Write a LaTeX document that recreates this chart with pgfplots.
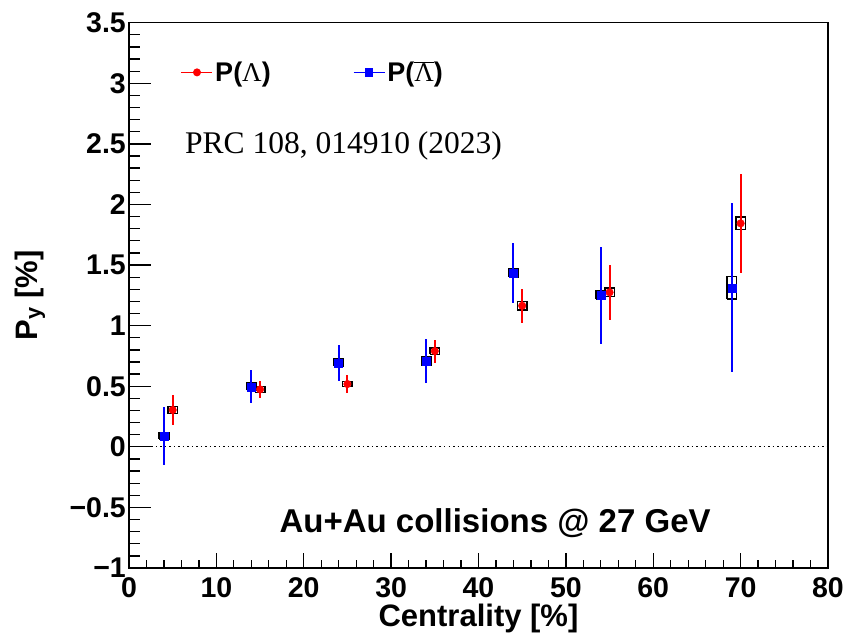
\documentclass[border=0pt]{standalone}
\usepackage{fontspec}
\setmainfont{Liberation Sans}
\newfontfamily\serif{Liberation Serif}
\usepackage{pgfplots}
\pgfplotsset{compat=1.18}
\begin{document}
\begin{tikzpicture}
\begin{axis}[
  at={(0,0)}, anchor=south west,
  scale only axis, width=699pt, height=545.3pt,
  xmin=0, xmax=80, ymin=-1, ymax=3.5,
  axis line style={line width=1.5pt, black},
  tick style={line width=1.3pt, black},
  tick pos=left, tick align=inside,
  xtick={0,10,20,30,40,50,60,70,80},
  xticklabels={0,10,20,30,40,50,60,70,80},
  minor x tick num=4,
  ytick={-1,-0.5,0,0.5,1,1.5,2,2.5,3,3.5},
  yticklabels={−1,−0.5,0,0.5,1,1.5,2,2.5,3,3.5},
  minor y tick num=4,
  x tick style={/pgfplots/major tick length=15pt, /pgfplots/minor tick length=7.5pt},
  y tick style={/pgfplots/major tick length=22pt, /pgfplots/minor tick length=11pt},
  tick label style={font=\fontsize{28.5}{30}\selectfont\bfseries},
  yticklabel style={anchor=east, inner sep=0pt, xshift=-3pt},
  xticklabel style={anchor=north, inner sep=0pt, yshift=-9pt},
  xlabel={Centrality [\%]},
  ylabel={P\textsubscript{y} [\%]},
  every axis x label/.style={at={(axis description cs:0.5,0)}, anchor=base, yshift=-59pt, font=\fontsize{31}{34}\selectfont\bfseries},
  every axis y label/.style={at={(axis description cs:-0.1316,0.5)}, anchor=base, rotate=90, font=\fontsize{31}{34}\selectfont\bfseries},
  legend columns=2,
  legend style={draw=none, fill=none, at={(axis cs:5.9,3.09)}, anchor=west, inner sep=0pt,
    font=\fontsize{27}{30}\selectfont\bfseries,
    /tikz/every even column/.append style={column sep=80pt}},
  legend image code/.code={\draw[mark repeat=2,mark phase=2,#1] plot coordinates {(0pt,0pt) (15.5pt,0pt) (31pt,0pt)};},
]
% zero line
\addplot[black, line width=1pt, dash pattern=on 1.5pt off 3pt, forget plot] coordinates {(0,0) (80,0)};
% systematic boxes
\addplot[black, line width=1.5pt, unbounded coords=jump, forget plot] coordinates {
(4.45,0.274)(5.55,0.274)(5.55,0.334)(4.45,0.334)(4.45,0.274) (5,nan)
(14.45,0.449)(15.55,0.449)(15.55,0.499)(14.45,0.499)(14.45,0.449) (15,nan)
(24.45,0.496)(25.55,0.496)(25.55,0.540)(24.45,0.540)(24.45,0.496) (25,nan)
(34.45,0.763)(35.55,0.763)(35.55,0.817)(34.45,0.817)(34.45,0.763) (35,nan)
(44.45,1.129)(45.55,1.129)(45.55,1.199)(44.45,1.199)(44.45,1.129) (45,nan)
(54.45,1.239)(55.55,1.239)(55.55,1.311)(54.45,1.311)(54.45,1.239) (55,nan)
(69.45,1.792)(70.55,1.792)(70.55,1.896)(69.45,1.896)(69.45,1.792) (70,nan)
(3.45,0.064)(4.55,0.064)(4.55,0.114)(3.45,0.114)(3.45,0.064) (4,nan)
(13.45,0.466)(14.55,0.466)(14.55,0.526)(13.45,0.526)(13.45,0.466) (14,nan)
(23.45,0.664)(24.55,0.664)(24.55,0.724)(23.45,0.724)(23.45,0.664) (24,nan)
(33.45,0.675)(34.55,0.675)(34.55,0.741)(33.45,0.741)(33.45,0.675) (34,nan)
(43.45,1.401)(44.55,1.401)(44.55,1.471)(43.45,1.471)(43.45,1.401) (44,nan)
(53.45,1.217)(54.55,1.217)(54.55,1.287)(53.45,1.287)(53.45,1.217) (54,nan)
(68.45,1.220)(69.55,1.220)(69.55,1.406)(68.45,1.406)(68.45,1.220)
};
% Lambda
\addplot[red, only marks, mark=*, mark size=3.8pt, forget plot,
  error bars/.cd, y dir=both, y explicit, error mark=none,
  error bar style={line width=2pt, red}]
  table[x=x, y=y, y error=e] {
x y e
5 0.304 0.12
15 0.474 0.07
25 0.518 0.075
35 0.790 0.095
45 1.164 0.14
55 1.275 0.227
70 1.844 0.41
};
% anti-Lambda
\addplot[blue, only marks, mark=square*, mark size=4pt, forget plot,
  error bars/.cd, y dir=both, y explicit, error mark=none,
  error bar style={line width=2pt, blue}]
  table[x=x, y=y, y error=e] {
x y e
4 0.089 0.24
14 0.496 0.135
24 0.694 0.15
34 0.708 0.18
44 1.436 0.25
54 1.252 0.40
69 1.313 0.695
};
\addlegendimage{red, line width=1.5pt, mark=*, mark size=3.2pt}
\addlegendentry{P({\serif\mdseries Λ})}
\addlegendimage{blue, line width=1.5pt, mark=square*, mark size=3.5pt}
\addlegendentry{P($\overline{\hbox{\serif\mdseries Λ}}$)}
\node[anchor=base west, inner sep=0pt, font=\fontsize{31.5}{34}\selectfont\serif] at (axis cs:6.4,2.422) {PRC 108, 014910 (2023)};
\node[anchor=base, inner sep=0pt, font=\fontsize{33}{36}\selectfont\bfseries] at (axis cs:41.9,-0.703) {Au+Au collisions @ 27 GeV};
\end{axis}
\pgfresetboundingbox
\useasboundingbox (-129pt,-68pt) rectangle (718pt,568pt);
\end{tikzpicture}
\end{document}
